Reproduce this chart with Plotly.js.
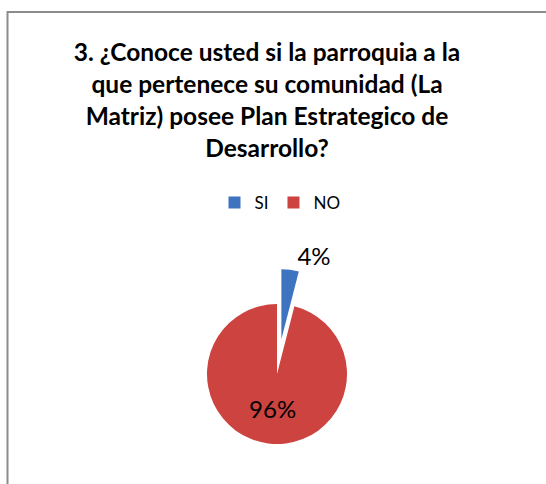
<!DOCTYPE html>
<html>
<head>
<meta charset="utf-8">
<script src="https://cdn.plot.ly/plotly-3.0.1.min.js"></script>
<style>html,body{margin:0;padding:0;background:#fff;}#chart{width:546px;height:484px;}</style>
</head>
<body>
<div id="chart"></div>
<script>
const categories = ["SI", "NO"];
const values = [4, 96];
const textLabels = ["4%", "96%"];
const sliceColors = ["#3E73C0", "#CC4340"];
const chartTitle = "3. ¿Conoce usted si la parroquia a la<br>que pertenece su comunidad (La<br>Matriz) posee Plan Estrategico de<br>Desarrollo?";

const W = 546, H = 484;
const cx = 277, cy = 374, rTot = 105;
const fam = "Lato, 'Liberation Sans', sans-serif";

const trace = {
  type: "pie",
  labels: categories,
  values: values,
  text: textLabels,
  textinfo: "text",
  textposition: ["outside", "inside"],
  insidetextorientation: "horizontal",
  sort: false,
  direction: "clockwise",
  rotation: 0,
  pull: [0.5, 0],
  marker: { colors: sliceColors, line: { width: 0 } },
  textfont: { family: fam, size: 24, color: "#000" },
  outsidetextfont: { family: fam, size: 24, color: "#000" },
  insidetextfont: { family: fam, size: 24, color: "#000" },
  hoverinfo: "none",
  domain: { x: [(cx - rTot) / W, (cx + rTot) / W], y: [(H - cy - rTot) / H, (H - cy + rTot) / H] }
};

const layout = {
  width: W, height: H,
  margin: { l: 0, r: 0, t: 0, b: 0 },
  paper_bgcolor: "#fff",
  showlegend: true,
  title: {
    text: chartTitle,
    x: 267 / W, xanchor: "center",
    y: 1 - 61 / H, yanchor: "top", yref: "container",
    font: { family: fam, size: 24.5, color: "#000", weight: "bold" }
  },
  legend: {
    orientation: "h",
    x: 280 / W, xanchor: "center",
    y: 1 - 185 / H, yanchor: "top",
    font: { family: fam, size: 17, color: "#000" },
    itemwidth: 30,
    tracegroupgap: 0
  },
  shapes: [
    { type: "rect", xref: "paper", yref: "paper", x0: 7.5 / W, x1: 1.05, y0: -0.05, y1: 1 - 12 / H,
      line: { color: "#8C8C8C", width: 2 }, fillcolor: "rgba(0,0,0,0)" }
  ]
};

Plotly.newPlot("chart", [trace], layout, { displayModeBar: false, staticPlot: true });
</script>
</body>
</html>
